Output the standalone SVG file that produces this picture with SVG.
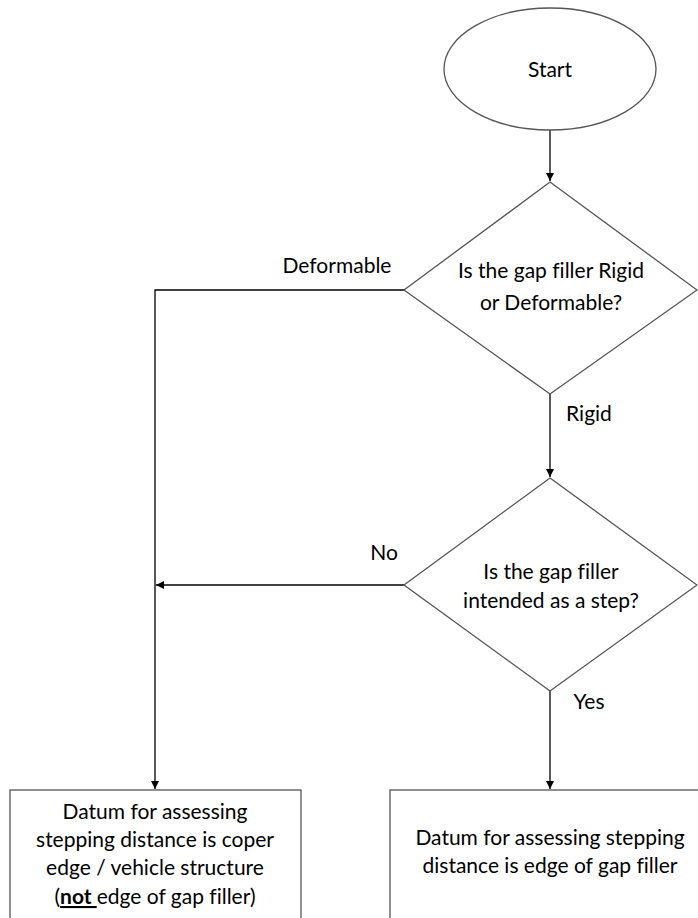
<svg xmlns="http://www.w3.org/2000/svg" width="698" height="918" viewBox="0 0 698 918">
<style>
.shape{fill:#fff;stroke:#555;stroke-width:1.3}
.line{fill:none;stroke:#000;stroke-width:1.3}
text{font-family:Lato,"Open Sans",sans-serif;font-size:21px;fill:#000;font-variant-ligatures:none}
.c{text-anchor:middle}
</style>
<defs>
<marker id="ah" viewBox="0 0 10 10" refX="10" refY="5" markerWidth="8" markerHeight="8" markerUnits="userSpaceOnUse" orient="auto">
<path d="M0,0 L10,5 L0,10 Z" fill="#000"/>
</marker>
</defs>
<g id="connectors">
<line class="line" x1="550" y1="130" x2="550" y2="181" marker-end="url(#ah)"/>
<polyline class="line" points="404,290 155,290 155,789" marker-end="url(#ah)"/>
<line class="line" x1="550" y1="394" x2="550" y2="477" marker-end="url(#ah)"/>
<line class="line" x1="404" y1="585" x2="156" y2="585" marker-end="url(#ah)"/>
<line class="line" x1="550" y1="691" x2="550" y2="789" marker-end="url(#ah)"/>
<text x="337" y="273" class="c">Deformable</text>
<text x="589" y="421" class="c">Rigid</text>
<text x="384" y="560" class="c">No</text>
<text x="589" y="709" class="c">Yes</text>
</g>
<g id="start">
<ellipse class="shape" cx="550" cy="69" rx="106" ry="61"/>
<text x="550" y="77" class="c">Start</text>
</g>
<g id="decision1">
<polygon class="shape" points="550,182 697,290 550,394 404,290"/>
<text x="551" y="278" class="c">Is the gap filler Rigid</text>
<text x="551" y="310" class="c">or Deformable?</text>
</g>
<g id="decision2">
<polygon class="shape" points="550,478 697,585 550,691 404,585"/>
<text x="551" y="579" class="c">Is the gap filler</text>
<text x="551" y="608" class="c">intended as a step?</text>
</g>
<g id="box1">
<rect class="shape" x="10" y="790" width="291" height="140"/>
<text x="155" y="819" class="c">Datum for assessing</text>
<text x="155" y="847" class="c">stepping distance is coper</text>
<text x="155" y="875" class="c">edge / vehicle structure</text>
<text x="155" y="904" class="c">(<tspan font-weight="bold" text-decoration="underline">not </tspan>edge of gap filler)</text>
</g>
<g id="box2">
<rect class="shape" x="390" y="790" width="310" height="140"/>
<text x="550" y="845" class="c">Datum for assessing stepping</text>
<text x="550" y="873" class="c">distance is edge of gap filler</text>
</g>
</svg>
